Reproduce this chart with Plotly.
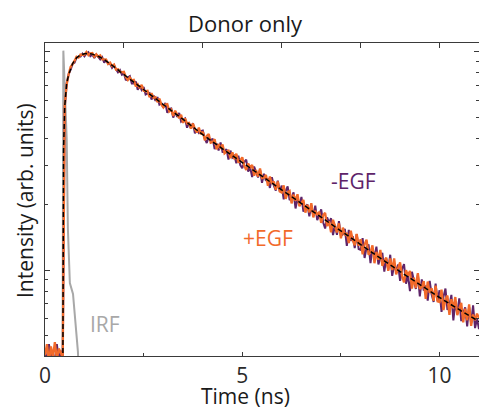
import numpy as np
import plotly.graph_objects as go

# ---- data ----
# time channels of the decay histogram (ns)
time_ns = np.round(np.arange(0, 11.0001, 0.05), 2)

# log10 of photon counts, +EGF (orange)
plus_egf_log10 = [
    2.61, 2.66, 2.58, 2.65, 2.60, 2.67, 2.59, 2.64, 2.62, 2.60,
    3.754, 3.850, 3.897, 3.931, 3.943, 3.959, 3.977, 3.973, 3.987, 3.986,
    3.987, 3.999, 3.984, 3.993, 3.994, 3.977, 3.988, 3.977, 3.983, 3.965,
    3.965, 3.964, 3.944, 3.950, 3.934, 3.941, 3.918, 3.920, 3.908, 3.907,
    3.908, 3.884, 3.870, 3.882, 3.869, 3.871, 3.841, 3.851, 3.833, 3.848,
    3.821, 3.819, 3.821, 3.792, 3.810, 3.789, 3.792, 3.769, 3.785, 3.758,
    3.745, 3.758, 3.760, 3.727, 3.735, 3.706, 3.730, 3.712, 3.695, 3.711,
    3.674, 3.694, 3.672, 3.674, 3.648, 3.671, 3.646, 3.630, 3.652, 3.622,
    3.633, 3.594, 3.614, 3.623, 3.583, 3.586, 3.599, 3.553, 3.577, 3.555,
    3.575, 3.534, 3.542, 3.547, 3.512, 3.539, 3.508, 3.533, 3.492, 3.502,
    3.516, 3.478, 3.458, 3.488, 3.471, 3.481, 3.432, 3.458, 3.428, 3.465,
    3.421, 3.423, 3.435, 3.386, 3.428, 3.395, 3.405, 3.368, 3.405, 3.360,
    3.355, 3.388, 3.326, 3.355, 3.362, 3.305, 3.346, 3.318, 3.347, 3.292,
    3.308, 3.321, 3.263, 3.299, 3.264, 3.306, 3.241, 3.271, 3.252, 3.267,
    3.216, 3.251, 3.262, 3.201, 3.223, 3.173, 3.230, 3.201, 3.172, 3.214,
    3.145, 3.194, 3.159, 3.170, 3.123, 3.180, 3.137, 3.113, 3.165, 3.111,
    3.141, 3.072, 3.117, 3.139, 3.070, 3.081, 3.113, 3.031, 3.083, 3.047,
    3.092, 3.019, 3.042, 3.057, 2.996, 3.053, 3.000, 3.053, 2.980, 3.007,
    3.035, 2.973, 2.943, 2.999, 2.974, 2.996, 2.915, 2.965, 2.917, 2.986,
    2.914, 2.922, 2.949, 2.868, 2.947, 2.895, 2.917, 2.859, 2.928, 2.856,
    2.853, 2.910, 2.816, 2.867, 2.883, 2.794, 2.866, 2.825, 2.876, 2.793,
    2.823, 2.849, 2.760, 2.823, 2.770, 2.843, 2.744, 2.796, 2.770, 2.800,
    2.780,
]

# log10 of photon counts, -EGF (purple)
minus_egf_log10 = [
    2.64, 2.57, 2.66, 2.60, 2.63, 2.56, 2.66, 2.59, 2.63, 2.58,
    3.742, 3.855, 3.898, 3.918, 3.944, 3.950, 3.974, 3.977, 3.978, 3.991,
    3.979, 3.992, 3.998, 3.980, 3.987, 3.971, 3.987, 3.976, 3.965, 3.975,
    3.950, 3.961, 3.946, 3.945, 3.926, 3.938, 3.920, 3.906, 3.916, 3.895,
    3.901, 3.869, 3.882, 3.888, 3.855, 3.855, 3.864, 3.826, 3.844, 3.825,
    3.838, 3.804, 3.809, 3.811, 3.781, 3.800, 3.775, 3.792, 3.758, 3.764,
    3.745, 3.765, 3.720, 3.738, 3.740, 3.698, 3.724, 3.702, 3.720, 3.680,
    3.688, 3.694, 3.652, 3.674, 3.647, 3.673, 3.626, 3.644, 3.628, 3.636,
    3.639, 3.602, 3.582, 3.610, 3.593, 3.602, 3.554, 3.579, 3.548, 3.584,
    3.541, 3.542, 3.554, 3.506, 3.547, 3.515, 3.523, 3.489, 3.524, 3.481,
    3.466, 3.495, 3.505, 3.451, 3.470, 3.426, 3.474, 3.449, 3.424, 3.460,
    3.399, 3.441, 3.409, 3.419, 3.376, 3.425, 3.387, 3.364, 3.409, 3.360,
    3.387, 3.324, 3.362, 3.383, 3.320, 3.329, 3.356, 3.282, 3.329, 3.296,
    3.335, 3.268, 3.288, 3.301, 3.246, 3.297, 3.248, 3.295, 3.228, 3.252,
    3.278, 3.219, 3.190, 3.241, 3.216, 3.237, 3.160, 3.206, 3.161, 3.224,
    3.156, 3.164, 3.188, 3.111, 3.184, 3.134, 3.155, 3.100, 3.164, 3.096,
    3.092, 3.146, 3.055, 3.103, 3.117, 3.031, 3.100, 3.059, 3.107, 3.026,
    3.055, 3.079, 2.993, 3.052, 3.001, 3.070, 2.973, 3.022, 2.996, 3.025,
    2.950, 3.005, 3.027, 2.937, 2.976, 2.903, 2.992, 2.953, 2.913, 2.980,
    2.879, 2.957, 2.906, 2.928, 2.860, 2.950, 2.888, 2.854, 2.938, 2.859,
    2.907, 2.808, 2.878, 2.915, 2.817, 2.836, 2.886, 2.769, 2.850, 2.801,
    2.870, 2.766, 2.803, 2.829, 2.742, 2.830, 2.757, 2.838, 2.734, 2.777,
    2.729,
]

# fitted decay (dashed black)
fit_t = [0.45, 0.47, 0.50, 0.55, 0.60, 0.65, 0.70, 0.80, 0.90, 1.00, 1.10,
         1.20, 1.30, 1.40, 1.50, 1.60, 1.70, 1.80, 1.90, 2.0, 2.5, 3.0, 3.5,
         4.0, 4.5, 5.0, 5.5, 6.0, 6.5, 7.0, 7.5, 8.0, 8.5, 9.0, 9.5, 10.0,
         10.5, 11.0]
fit_log10 = [2.40, 3.55, 3.75, 3.855, 3.895, 3.925, 3.946, 3.972, 3.985, 3.991,
             3.992, 3.989, 3.983, 3.975, 3.964, 3.952, 3.939, 3.925, 3.909,
             3.895, 3.827, 3.758, 3.690, 3.620, 3.555, 3.492, 3.432, 3.368,
             3.305, 3.242, 3.178, 3.116, 3.054, 2.993, 2.933, 2.874, 2.818,
             2.764]

# instrument response function (grey)
irf_t = [0.44, 0.455, 0.465, 0.55, 0.58, 0.63, 0.71, 0.835, 0.87]
irf_log10 = [2.30, 3.50, 4.005, 3.60, 3.19, 2.94, 2.89, 2.625, 2.45]

x_tick_vals = [0, 5, 10]
x_tick_text = ["0", "5", "10"]

PURPLE = "#5e2469"
ORANGE = "#f26a2a"
GREY = "#a8a8a8"
FONT = "Open Sans"
TXT = "#1a1a1a"

fig = go.Figure()
fig.add_trace(go.Scatter(x=irf_t, y=10 ** np.array(irf_log10), mode="lines",
                         line=dict(color=GREY, width=2), showlegend=False))
fig.add_trace(go.Scatter(x=time_ns, y=10 ** np.array(minus_egf_log10), mode="lines",
                         line=dict(color=PURPLE, width=2, simplify=False),
                         showlegend=False))
fig.add_trace(go.Scatter(x=time_ns, y=10 ** np.array(plus_egf_log10), mode="lines",
                         line=dict(color=ORANGE, width=2.3, simplify=False),
                         showlegend=False))
fig.add_trace(go.Scatter(x=fit_t, y=10 ** np.array(fit_log10), mode="lines",
                         line=dict(color="black", width=1.5, dash="5px,3px"),
                         showlegend=False))
# invisible trace to carry the mirrored top / right axes
fig.add_trace(go.Scatter(x=[0], y=[1000], xaxis="x2", yaxis="y2", mode="markers",
                         marker=dict(opacity=0), showlegend=False, hoverinfo="skip"))

y_range = [2.606, 4.040]
axis_col = "#3a3a3a"

ML, MR, MT, MB = 45, 0, 43, 54
W, H = 479, 410
plot_w = W - ML - MR
plot_h = H - MT - MB

fig.update_layout(
    width=W, height=H,
    margin=dict(l=ML, r=MR, t=MT, b=MB, autoexpand=False),
    paper_bgcolor="white", plot_bgcolor="white",
    font=dict(family=FONT, size=21, color=TXT),
    title=dict(text="Donor only", x=245 / W, xanchor="center", y=1 - 24 / H,
               yanchor="middle", xref="container", yref="container",
               font=dict(family=FONT, size=22, color=TXT)),
    xaxis=dict(range=[0, 11], tickvals=x_tick_vals, ticktext=x_tick_text,
               ticks="inside", ticklen=4, tickwidth=1, tickcolor=axis_col,
               showline=True, linecolor=axis_col, linewidth=1.3,
               showgrid=False, zeroline=False, automargin=False,
               minor=dict(ticks="inside", ticklen=3, dtick=2.5, tickcolor=axis_col,
                          showgrid=False),
               tickfont=dict(size=21, color="#2a2a2a")),
    xaxis2=dict(range=[0, 11], overlaying="x", side="top", anchor="y",
                dtick=2, tick0=0, ticks="inside", ticklen=5, tickcolor=axis_col,
                showticklabels=False, showline=True, linecolor=axis_col,
                linewidth=1.3, showgrid=False, zeroline=False, automargin=False),
    yaxis=dict(type="log", range=y_range, dtick=1, ticks="inside", ticklen=5,
               tickcolor=axis_col, showticklabels=False, showline=True,
               linecolor=axis_col, linewidth=1.3, showgrid=False, zeroline=False,
               automargin=False,
               minor=dict(ticks="inside", ticklen=3, dtick="D1", tickcolor=axis_col,
                          showgrid=False)),
    yaxis2=dict(type="log", range=y_range, dtick=1, overlaying="y", side="right",
                anchor="x", ticks="inside", ticklen=5, tickcolor=axis_col,
                showticklabels=False, showline=False, showgrid=False,
                zeroline=False, automargin=False,
                minor=dict(ticks="inside", ticklen=3, dtick="D1", tickcolor=axis_col,
                           showgrid=False)),
    annotations=[
        dict(text="Time (ns)", xref="paper", yref="paper",
             x=(245 - ML) / plot_w, y=-(396 - (H - MB)) / plot_h,
             xanchor="center", yanchor="middle", showarrow=False,
             font=dict(family=FONT, size=21, color=TXT)),
        dict(text="Intensity (arb. units)", xref="paper", yref="paper",
             x=-(ML - 25) / plot_w, y=((H - MB) - 201) / plot_h,
             xanchor="center", yanchor="middle", showarrow=False, textangle=-90,
             font=dict(family=FONT, size=21, color=TXT)),
        dict(text="-EGF", x=7.81, y=3.408, xref="x", yref="y", showarrow=False,
             font=dict(family=FONT, size=21, color=PURPLE)),
        dict(text="+EGF", x=5.65, y=3.147, xref="x", yref="y", showarrow=False,
             font=dict(family=FONT, size=21, color=ORANGE)),
        dict(text="IRF", x=1.51, y=2.753, xref="x", yref="y", showarrow=False,
             font=dict(family=FONT, size=21, color=GREY)),
    ],
)

# remove the browser's default 8 px page margin so the figure fills the window
page_css = "document.body.style.margin='0';document.body.style.overflow='hidden';"
fig.write_html("out.html", post_script=page_css,
               config={"displayModeBar": False, "staticPlot": True})
